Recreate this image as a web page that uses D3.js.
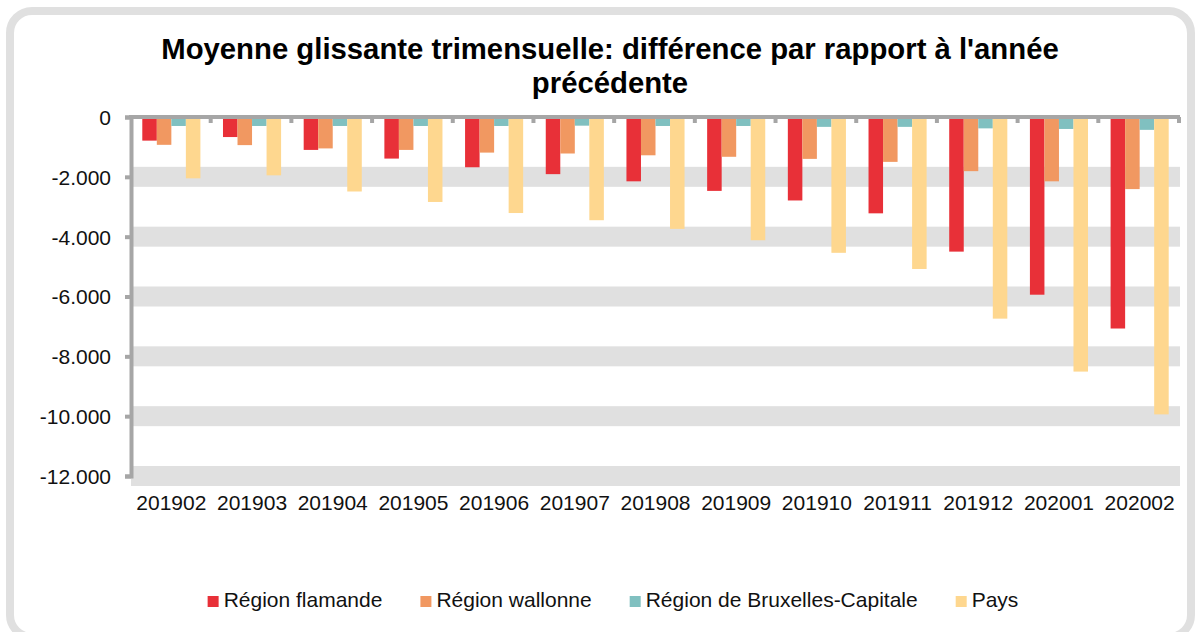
<!DOCTYPE html>
<html>
<head>
<meta charset="utf-8">
<script src="https://cdn.jsdelivr.net/npm/d3@7"></script>
<style>
  body { margin: 0; background: #fff; }
  svg { display: block; font-family: "Liberation Sans", Arial, sans-serif; }
</style>
</head>
<body>
<div id="chart"></div>
<script>
var periodes = ["201902","201903","201904","201905","201906","201907","201908","201909","201910","201911","201912","202001","202002"];
var flamande  = [-790,-670,-1100,-1390,-1680,-1910,-2150,-2470,-2790,-3220,-4500,-5940,-7070];
var wallonne  = [-930,-940,-1050,-1100,-1190,-1220,-1280,-1330,-1400,-1500,-1810,-2150,-2410];
var bruxelles = [-300,-300,-300,-300,-300,-290,-300,-300,-330,-330,-380,-400,-430];
var pays      = [-2050,-1950,-2490,-2840,-3210,-3450,-3740,-4120,-4540,-5080,-6740,-8510,-9940];
var seriesNames = ["Région flamande","Région wallonne","Région de Bruxelles-Capitale","Pays"];
var yTicks = [0,-2000,-4000,-6000,-8000,-10000,-12000];
var titleLines = ["Moyenne glissante trimensuelle: différence par rapport à l'année", "précédente"];

var width = 1197, height = 632,
    margin = {top: 117, right: 17, bottom: 156, left: 131};

var color = d3.scaleOrdinal()
  .domain(seriesNames)
  .range(["#e83038", "#f19861", "#80c0c0", "#fed78f"]);

var series = [flamande, wallonne, bruxelles, pays];

// one row per period, one value per series
var rows = periodes.map(function(p, i) {
  return {periode: p, values: seriesNames.map(function(s, j) { return {serie: s, value: series[j][i]}; })};
});

var fmt = d3.formatLocale({decimal: ",", thousands: ".", grouping: [3], currency: ["", " €"], minus: "-"}).format(",");

var svg = d3.select("#chart").append("svg")
  .attr("width", width)
  .attr("height", height);

// outer rounded frame
svg.append("rect")
  .attr("x", 10).attr("y", 11)
  .attr("width", width - 16).attr("height", height - 6)
  .attr("rx", 22).attr("ry", 22)
  .style("fill", "none")
  .style("stroke", "#e0e0e0")
  .style("stroke-width", 8);

// title
svg.append("text")
  .attr("x", 610)
  .attr("y", 59)
  .style("font-size", "29.3px")
  .style("font-weight", "bold")
  .style("text-anchor", "middle")
  .selectAll("tspan")
  .data(titleLines)
  .enter().append("tspan")
    .attr("x", 610)
    .attr("dy", function(d, i) { return i ? 34 : 0; })
    .text(function(d) { return d; });

var x0 = d3.scaleBand()
  .domain(periodes)
  .range([margin.left, width - margin.right])
  .padding(0);

var x1 = d3.scaleBand()
  .domain(seriesNames)
  .range([x0.bandwidth() * 0.14, x0.bandwidth() * 0.86]);

var y = d3.scaleLinear()
  .domain([-12000, 0])
  .range([height - margin.bottom, margin.top]);

// thick banded gridlines
svg.append("g")
  .selectAll("rect")
  .data(yTicks.filter(function(d) { return d !== 0; }))
  .enter().append("rect")
    .attr("x", margin.left)
    .attr("y", function(d) { return y(d) - 10; })
    .attr("width", width - margin.right - margin.left)
    .attr("height", 20)
    .style("fill", "#e0e0e0");

// bars
var groups = svg.append("g")
  .selectAll("g")
  .data(rows)
  .enter().append("g")
    .attr("transform", function(d) { return "translate(" + x0(d.periode) + ",0)"; });

groups.selectAll("rect")
  .data(function(d) { return d.values; })
  .enter().append("rect")
    .attr("x", function(d) { return x1(d.serie); })
    .attr("width", x1.bandwidth())
    .attr("y", y(0))
    .attr("height", function(d) { return y(d.value) - y(0); })
    .style("fill", function(d) { return color(d.serie); });

var axisColor = "#a6a6a6";

// y axis
var yAxis = svg.append("g")
  .attr("transform", "translate(" + margin.left + ",0)")
  .call(d3.axisLeft(y).tickValues(yTicks).tickFormat(fmt).tickSize(6).tickPadding(14));
yAxis.select(".domain").style("stroke", axisColor).style("stroke-width", 4);
yAxis.selectAll(".tick line").style("stroke", axisColor).style("stroke-width", 4);
yAxis.selectAll("text").style("font-size", "21px").style("fill", "#111")
  .attr("dy", "0.35em");

// zero line with ticks between categories
var boundaries = periodes.map(function(p) { return x0(p) + x0.bandwidth(); });
svg.append("g").selectAll("line")
  .data(boundaries)
  .enter().append("line")
    .attr("x1", function(d) { return d - 1; })
    .attr("x2", function(d) { return d - 1; })
    .attr("y1", y(0))
    .attr("y2", y(0) + 6)
    .style("stroke", axisColor)
    .style("stroke-width", 4);
svg.append("line")
  .attr("x1", margin.left - 2)
  .attr("x2", width - margin.right)
  .attr("y1", y(0))
  .attr("y2", y(0))
  .style("stroke", axisColor)
  .style("stroke-width", 4);

// category labels
svg.append("g").selectAll("text")
  .data(periodes)
  .enter().append("text")
    .attr("x", function(d) { return x0(d) + x0.bandwidth() / 2; })
    .attr("y", 510)
    .style("text-anchor", "middle")
    .style("font-size", "21px")
    .style("fill", "#111")
    .text(function(d) { return d; });

// legend
var legend = svg.append("g").attr("class", "legend");
var items = legend.selectAll("g")
  .data(seriesNames)
  .enter().append("g");
items.append("rect")
  .attr("width", 11).attr("height", 11)
  .attr("y", 596)
  .style("fill", function(d) { return color(d); });
items.append("text")
  .attr("x", 16)
  .attr("y", 607)
  .style("font-size", "21px")
  .style("fill", "#111")
  .text(function(d) { return d; });

var offset = 0, positions = [];
items.each(function() {
  positions.push(offset);
  offset += 16 + d3.select(this).select("text").node().getComputedTextLength() + 38;
});
var legendWidth = offset - 38;
var legendStart = 613 - legendWidth / 2;
items.attr("transform", function(d, i) { return "translate(" + (legendStart + positions[i]) + ",0)"; });
</script>
</body>
</html>
